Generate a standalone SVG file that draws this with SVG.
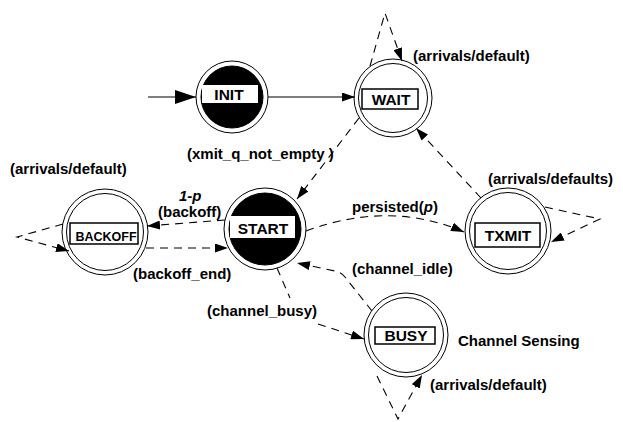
<svg xmlns="http://www.w3.org/2000/svg" width="623" height="422" viewBox="0 0 623 422">
<style>
text{font-family:"Liberation Sans",Arial,sans-serif;font-weight:bold;fill:#000}
.lbl{font-size:15px}
.nl{font-size:15.5px;text-anchor:middle}
.ring{fill:none;stroke:#000;stroke-width:1}
.disk{fill:#000;stroke:#000;stroke-width:1}
.box{fill:#fff;stroke:#000;stroke-width:1.5}
.e{fill:none;stroke:#000;stroke-width:1.1;stroke-dasharray:8 6}
.s{fill:none;stroke:#000;stroke-width:1.1}
</style>
<defs>
<marker id="a" markerUnits="userSpaceOnUse" markerWidth="14" markerHeight="9" refX="13" refY="4.5" orient="auto"><path d="M0,0 L13,4.5 L0,9 z" fill="#000"/></marker>
<marker id="b" markerUnits="userSpaceOnUse" markerWidth="22" markerHeight="14" refX="21" refY="7" orient="auto"><path d="M0,0 L21,7 L0,14 z" fill="#000"/></marker>
</defs>

<g id="connectors">
<path class="s" d="M148,97 L196,97" stroke-width="3" marker-end="url(#b)"/>
<path class="s" d="M268,97 L355,97" marker-end="url(#a)"/>
<path class="e" d="M370,66 L385,13 L402,61" marker-end="url(#a)"/>
<path class="e" d="M359,118 L297,199" marker-end="url(#a)"/>
<path class="e" d="M481,198 L416,128" marker-end="url(#a)"/>
<path class="e" d="M545,207 L600,219 L551,242" marker-end="url(#a)"/>
<path class="e" d="M306,231 Q390,200 464,232" marker-end="url(#a)"/>
<path class="e" d="M225,220 L147,226" marker-end="url(#a)"/>
<path class="e" d="M146,248 L228,248" marker-end="url(#a)"/>
<path class="e" d="M63,224 L17,237 L69,251" marker-end="url(#a)"/>
<path class="e" d="M277,268 L290,298 M318,324 L364,339" marker-end="url(#a)"/>
<path class="e" d="M372,311 L345,277 Q341,272 335,271 L297,263" marker-end="url(#a)"/>
<path class="e" d="M377,376 L398,419 L422,375" marker-end="url(#a)"/>
</g>

<g id="INIT">
<circle class="ring" cx="232" cy="97" r="36"/>
<circle class="disk" cx="232" cy="97" r="31"/>
<rect x="202" y="85" width="56" height="18" fill="#fff"/>
<text class="nl" x="229" y="100">INIT</text>
</g>

<g id="WAIT">
<circle class="ring" cx="393" cy="98" r="39"/>
<circle class="ring" cx="393" cy="98" r="34.5"/>
<rect class="box" x="362" y="89" width="56" height="20"/>
<text class="nl" x="391" y="105">WAIT</text>
</g>

<g id="START">
<circle class="ring" cx="265" cy="229" r="41"/>
<circle class="disk" cx="265" cy="229" r="36"/>
<rect x="230" y="216" width="65" height="22" fill="#fff"/>
<text class="nl" x="263" y="234">START</text>
</g>

<g id="BACKOFF">
<circle class="ring" cx="105" cy="232" r="43"/>
<circle class="ring" cx="105" cy="232" r="38.5"/>
<rect class="box" x="70" y="223" width="68" height="21"/>
<text x="106" y="241" style="font-size:12.5px;text-anchor:middle">BACKOFF</text>
</g>

<g id="TXMIT">
<circle class="ring" cx="508" cy="231" r="43"/>
<circle class="ring" cx="508" cy="231" r="38.5"/>
<rect class="box" x="475" y="223" width="65" height="24"/>
<text class="nl" x="508" y="241">TXMIT</text>
</g>

<g id="BUSY">
<circle class="ring" cx="406" cy="335" r="42"/>
<circle class="ring" cx="406" cy="335" r="37.5"/>
<rect class="box" x="375" y="327" width="60" height="17"/>
<text class="nl" x="406" y="341">BUSY</text>
</g>

<g id="labels">
<text class="lbl" x="413" y="61">(arrivals/default)</text>
<text class="lbl" x="187" y="159">(xmit_q_not_empty )</text>
<text class="lbl" x="10" y="174">(arrivals/default)</text>
<text class="lbl" x="179" y="201" font-style="italic">1-p</text>
<text class="lbl" x="158" y="217">(backoff)</text>
<text class="lbl" x="352" y="212">persisted(<tspan font-style="italic">p</tspan>)</text>
<text class="lbl" x="488" y="184">(arrivals/defaults)</text>
<text class="lbl" x="133" y="279">(backoff_end)</text>
<text class="lbl" x="352" y="274">(channel_idle)</text>
<text class="lbl" x="207" y="316">(channel_busy)</text>
<text class="lbl" x="458" y="346">Channel Sensing</text>
<text class="lbl" x="430" y="390">(arrivals/default)</text>
</g>
</svg>
